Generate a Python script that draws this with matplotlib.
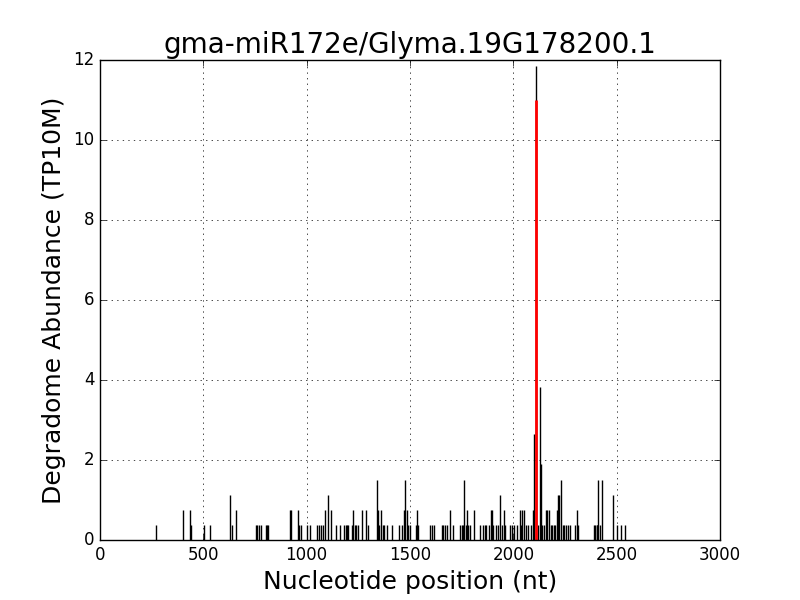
import matplotlib
matplotlib.use('Agg')
import matplotlib.pyplot as plt

plt.style.use('classic')

# degradome reads: position (nt) and abundance (TP10M)
positions = [271, 403, 437, 441, 505, 534, 630, 637, 660, 755, 762, 770, 778,
             802, 810, 815, 920, 926, 960, 965, 974, 1000, 1016, 1052, 1060,
             1070, 1081, 1089, 1105, 1118, 1142, 1161, 1182, 1188, 1195, 1201,
             1220, 1226, 1232, 1240, 1250, 1269, 1287, 1298, 1339, 1345, 1350,
             1360, 1368, 1375, 1390, 1411, 1447, 1463, 1472, 1478, 1485, 1492,
             1500, 1530, 1534, 1540, 1597, 1605, 1616, 1653, 1661, 1670, 1680,
             1694, 1710, 1740, 1750, 1756, 1762, 1770, 1775, 1781, 1790, 1810,
             1839, 1855, 1862, 1870, 1880, 1892, 1898, 1902, 1915, 1925, 1936,
             1945, 1955, 1962, 1984, 1995, 2005, 2017, 2033, 2038, 2043, 2053,
             2060, 2073, 2086, 2094, 2101, 2112, 2118, 2127, 2135, 2140, 2150,
             2159, 2165, 2172, 2180, 2188, 2195, 2202, 2210, 2215, 2220, 2231,
             2240, 2247, 2255, 2263, 2275, 2300, 2309, 2315, 2391, 2397, 2403,
             2407, 2411, 2420, 2429, 2484, 2503, 2519, 2542]
abundance = [0.38, 0.75, 0.75, 0.38, 0.38, 0.38, 1.13, 0.38, 0.75, 0.38, 0.38, 0.38, 0.38,
             0.38, 0.38, 0.38, 0.75, 0.75, 0.75, 0.38, 0.38, 0.38, 0.38, 0.38, 0.38,
             0.38, 0.38, 0.75, 1.13, 0.75, 0.38, 0.38, 0.38, 0.38, 0.38, 0.38,
             0.38, 0.75, 0.38, 0.38, 0.38, 0.75, 0.75, 0.38, 1.51, 0.75, 0.38,
             0.75, 0.38, 0.38, 0.38, 0.38, 0.38, 0.38, 0.75, 1.51, 0.75, 0.38,
             0.38, 0.38, 0.75, 0.38, 0.38, 0.38, 0.38, 0.38, 0.38, 0.38, 0.38,
             0.75, 0.38, 0.38, 0.38, 0.38, 1.51, 0.38, 0.75, 0.38, 0.38, 0.75,
             0.38, 0.38, 0.38, 0.38, 0.38, 0.75, 0.75, 0.38, 0.38, 0.38, 1.13,
             0.38, 0.75, 0.38, 0.38, 0.38, 0.38, 0.38, 0.75, 0.38, 0.75, 0.75,
             0.38, 0.38, 0.38, 0.75, 2.64, 11.84, 0.38, 3.82, 1.89, 0.38, 0.38,
             0.75, 0.75, 0.75, 0.38, 0.38, 0.38, 0.38, 0.75, 1.13, 1.13, 1.51,
             0.38, 0.38, 0.38, 0.38, 0.38, 0.38, 0.75, 0.38, 0.38, 0.38, 0.38,
             0.38, 1.51, 0.38, 1.51, 1.13, 0.38, 0.38, 0.38]

# predicted cleavage site
site_pos = 2110
site_val = 11.0

fig, ax = plt.subplots(figsize=(8, 6), dpi=100)
ax.vlines(positions, 0, abundance, colors='k', linewidth=1)
ax.vlines([site_pos], 0, [site_val], colors='r', linewidth=2)

ax.set_xlim(0, 3000)
ax.set_ylim(0, 12)
ax.grid(True)
ax.set_title('gma-miR172e/Glyma.19G178200.1', fontsize=20)
ax.set_xlabel('Nucleotide position (nt)', fontsize=18)
ax.set_ylabel('Degradome Abundance (TP10M)', fontsize=18)

plt.savefig('out.png', dpi=100)
